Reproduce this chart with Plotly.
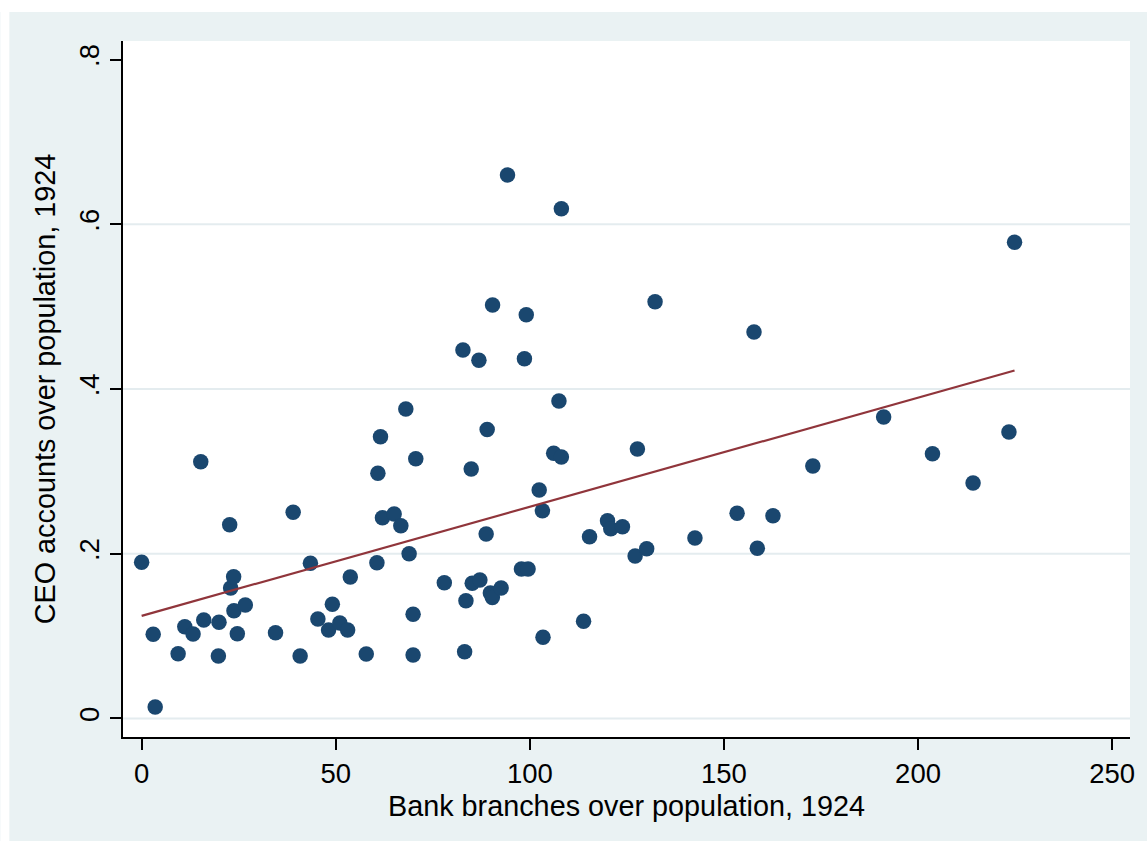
import numpy as np
import plotly.graph_objects as go

# Data
bank_branches = [0.0, 2.98, 3.49, 9.40, 11.12, 13.25, 15.23, 16.00, 19.93, 19.77,
                 22.68, 22.93, 23.70, 23.78, 24.65, 26.71, 34.49, 39.03, 40.83, 43.48,
                 45.40, 48.15, 49.13, 51.05, 53.06, 53.75, 57.86, 60.61, 60.86, 61.53,
                 62.04, 65.05, 66.77, 68.05, 68.90, 69.93, 69.93, 70.62, 77.97, 82.77,
                 83.20, 83.54, 84.90, 85.16, 87.13, 86.88, 88.75, 89.01, 89.83, 90.34,
                 90.40, 92.60, 94.25, 97.84, 99.54, 98.61, 99.08, 102.41, 103.24, 103.39,
                 106.14, 107.50, 108.12, 108.12, 113.84, 115.38, 120.01, 120.85, 123.86, 127.12,
                 127.71, 130.10, 132.26, 142.53, 153.39, 157.75, 158.60, 162.63, 172.90, 191.14,
                 203.72, 214.17, 223.42, 224.86]
ceo_accounts = [0.1896, 0.1021, 0.0138, 0.0786, 0.1114, 0.1025, 0.3117, 0.1195, 0.1167, 0.0758,
                0.2352, 0.1583, 0.1721, 0.1308, 0.1029, 0.1377, 0.1041, 0.2503, 0.0758, 0.1883,
                0.1207, 0.1073, 0.1387, 0.1158, 0.1073, 0.1717, 0.0782, 0.1891, 0.2976, 0.3421,
                0.2437, 0.2482, 0.2340, 0.3757, 0.2000, 0.1264, 0.0770, 0.3154, 0.1648, 0.4474,
                0.0810, 0.1429, 0.3029, 0.1641, 0.1681, 0.4349, 0.2239, 0.3508, 0.1523, 0.1468,
                0.5020, 0.1583, 0.6599, 0.1814, 0.1814, 0.4368, 0.4902, 0.2774, 0.2522, 0.0985,
                0.3219, 0.3854, 0.3174, 0.6190, 0.1179, 0.2206, 0.2401, 0.2304, 0.2328, 0.1972,
                0.3271, 0.2061, 0.5060, 0.2191, 0.2491, 0.4692, 0.2066, 0.2461, 0.3065, 0.3660,
                0.3214, 0.2859, 0.3478, 0.5781]

x_ticks = [0, 50, 100, 150, 200, 250]
x_tick_labels = ["0", "50", "100", "150", "200", "250"]
y_ticks = [0, 0.2, 0.4, 0.6, 0.8]
y_tick_labels = ["0", ".2", ".4", ".6", ".8"]
grid_y = [0, 0.2, 0.4, 0.6]

x_title = "Bank branches over population, 1924"
y_title = "CEO accounts over population, 1924"

# Linear fit (as Stata lfit)
xa = np.array(bank_branches)
ya = np.array(ceo_accounts)
slope, intercept = np.polyfit(xa, ya, 1)
fit_x = np.array([xa.min(), xa.max()])
fit_y = intercept + slope * fit_x

BG = "#EAF2F3"
NAVY = "#1A476F"
MAROON = "#90353B"
FONT = "Liberation Sans, Arial, sans-serif"

fig = go.Figure()
fig.add_trace(go.Scatter(x=bank_branches, y=ceo_accounts, mode="markers",
                         marker=dict(color=NAVY, size=15.5, line=dict(width=0)),
                         showlegend=False, hoverinfo="skip"))
fig.add_trace(go.Scatter(x=fit_x, y=fit_y, mode="lines",
                         line=dict(color=MAROON, width=2.2),
                         showlegend=False, hoverinfo="skip"))

W, H = 1147, 841
ml, mr, mt, mb = 123, 14, 41, 104

shapes = []
for gy in grid_y:
    shapes.append(dict(type="line", xref="paper", yref="y", x0=0, x1=1, y0=gy, y1=gy,
                       line=dict(color="#E4ECEF", width=2), layer="below"))
# white outer strips (left and top)
pw = W - ml - mr
ph = H - mt - mb
shapes.append(dict(type="rect", xref="paper", yref="paper",
                   x0=(0 - ml) / pw, x1=(9 - ml) / pw, y0=-2, y1=2,
                   fillcolor="white", line=dict(width=0), layer="above"))
shapes.append(dict(type="rect", xref="paper", yref="paper",
                   x0=-2, x1=2, y0=(H - mb - 12) / ph, y1=(H - mb) / ph + 1,
                   fillcolor="white", line=dict(width=0), layer="above"))

fig.update_layout(
    width=W, height=H,
    margin=dict(l=ml, r=mr, t=mt, b=mb, pad=0),
    paper_bgcolor=BG, plot_bgcolor="white",
    font=dict(family=FONT, color="black"),
    shapes=shapes,
    xaxis=dict(range=[-4.8, 254.6], tickvals=x_ticks, ticktext=x_tick_labels,
               showgrid=False, zeroline=False, showline=True, linecolor="black", linewidth=1.5,
               ticks="outside", ticklen=11, tickwidth=1.5, tickcolor="black",
               tickfont=dict(size=27.5, family=FONT, color="black"),
               title=dict(text=x_title, font=dict(size=28.8, family=FONT, color="black"), standoff=8)),
    yaxis=dict(range=[-0.0226, 0.8226], tickvals=y_ticks, ticktext=y_tick_labels,
               showgrid=False, zeroline=False, showline=True, linecolor="black", linewidth=1.5,
               ticks="outside", ticklen=11, tickwidth=1.5, tickcolor="black", tickangle=-90,
               tickfont=dict(size=27.5, family=FONT, color="black"),
               title=dict(text=y_title, font=dict(size=28.8, family=FONT, color="black"), standoff=10)),
)

fig.write_html("out.html", config={"displayModeBar": False})
